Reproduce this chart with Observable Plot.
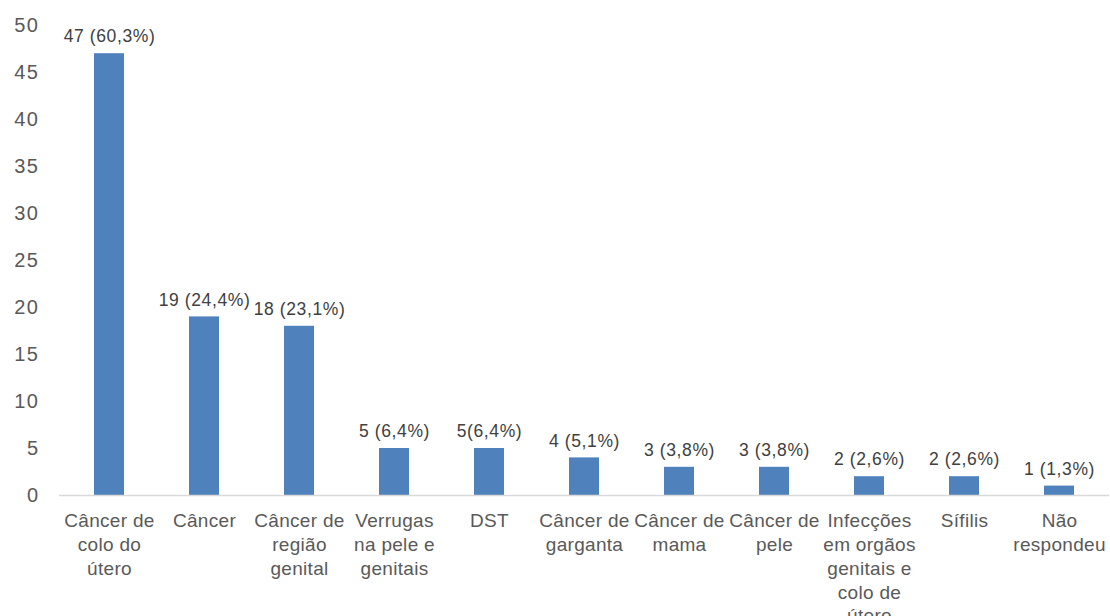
<!DOCTYPE html>
<html><head><meta charset="utf-8">
<script src="https://cdn.jsdelivr.net/npm/d3@7"></script>
<script src="https://cdn.jsdelivr.net/npm/@observablehq/plot@0.6"></script>
<style>body{margin:0;background:#fff} svg{display:block}
.yax text{letter-spacing:1.5px}
.vlab text{letter-spacing:0.6px}
.xax text{letter-spacing:0.3px}
</style>
</head><body><div id="chart"></div>
<script>
const categories = ["Câncer de colo do útero","Câncer","Câncer de região genital","Verrugas na pele e genitais","DST","Câncer de garganta","Câncer de mama","Câncer de pele","Infecções em orgãos genitais e colo de útero","Sífilis","Não respondeu"];
const tickLabels = ["Câncer de\ncolo do\nútero","Câncer","Câncer de\nregião\ngenital","Verrugas\nna pele e\ngenitais","DST","Câncer de\ngarganta","Câncer de\nmama","Câncer de\npele","Infecções\nem orgãos\ngenitais e\ncolo de\nútero","Sífilis","Não\nrespondeu"];
const values = [47,19,18,5,5,4,3,3,2,2,1];
const valueLabels = ["47 (60,3%)","19 (24,4%)","18 (23,1%)","5 (6,4%)","5(6,4%)","4 (5,1%)","3 (3,8%)","3 (3,8%)","2 (2,6%)","2 (2,6%)","1 (1,3%)"];
const yTicks = [0,5,10,15,20,25,30,35,40,45,50];

const data = categories.map((c,i)=>({category:c, value:values[i], label:valueLabels[i]}));
const plot = Plot.plot({
  width:1110, height:616, marginLeft:59, marginRight:1, marginTop:25, marginBottom:121,
  style:{fontFamily:"'Liberation Sans', Arial, sans-serif", color:"#595959", background:"#fff", overflow:"visible"},
  x:{domain:categories, paddingInner:0.686, paddingOuter:0.343, label:null},
  y:{domain:[0,50], label:null},
  marks:[
    Plot.barY(data,{x:"category", y:"value", fill:"#4F81BD"}),
    Plot.ruleY([0],{stroke:"#d9d9d9", strokeWidth:1.3}),
    Plot.axisY({ticks:yTicks, tickSize:0, tickPadding:20, fontSize:20, label:null, fill:"#595959", className:"yax"}),
    Plot.axisX({tickSize:0, tickPadding:15, fontSize:19, lineHeight:1.25, tickFormat:(d)=>tickLabels[categories.indexOf(d)], label:null, fill:"#595959", className:"xax"}),
    Plot.text(data,{x:"category", y:"value", text:"label", dy:-17, fontSize:17.5, fill:"#404040", className:"vlab"})
  ]
});
document.getElementById("chart").append(plot);
</script></body></html>
